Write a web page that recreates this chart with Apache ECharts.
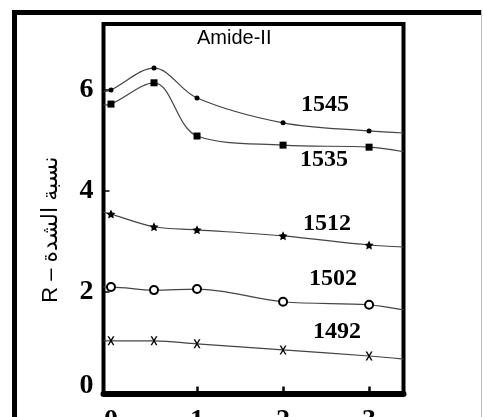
<!DOCTYPE html>
<html>
<head>
<meta charset="utf-8">
<script src="https://cdn.jsdelivr.net/npm/echarts@6/dist/echarts.min.js"></script>
<style>
html,body{margin:0;padding:0;background:#fff;}
#chart{width:483px;height:417px;}
</style>
</head>
<body>
<div id="chart"></div>
<script>
// ---- data ----
const xValues = [0, 0.5, 1, 2, 3];
const xEdges = [-0.087, 3.4];           // line continues to the frame edges
const xTickLabels = [0, 1, 2, 3];
const yTickLabels = [0, 2, 4, 6];
const seriesNames = ['1545', '1535', '1512', '1502', '1492'];
const r1545 = [5.99, 6.42, 5.83, 5.34, 5.18];
const r1535 = [5.71, 6.13, 5.08, 4.90, 4.86];
const r1512 = [3.54, 3.29, 3.23, 3.11, 2.93];
const r1502 = [2.10, 2.04, 2.06, 1.81, 1.75];
const r1492 = [1.04, 1.04, 0.98, 0.86, 0.74];
const edges1545 = [5.95, 5.14];
const edges1535 = [5.69, 4.77];
const edges1512 = [3.58, 2.89];
const edges1502 = [2.10, 1.65];
const edges1492 = [1.04, 0.68];
const titleText = 'Amide-II';
const yName = 'R – نسبة الشدة';

// ---- styling ----
const STAR = 'path://M0,-10 L2.9,-4 9.5,-3.1 4.7,1.5 5.9,8.1 0,5 -5.9,8.1 -4.7,1.5 -9.5,-3.1 -2.9,-4 Z';
const CROSS = 'path://M0,0 L2.2,0 5,4 7.8,0 10,0 6.1,5.5 10,11 7.8,11 5,7 2.2,11 0,11 3.9,5.5 Z';
const styles = [
  {symbol: 'circle', size: 5, offset: [42, -18]},
  {symbol: 'rect', size: 7, offset: [41, 15]},
  {symbol: STAR, size: 9, offset: [44, -12]},
  {symbol: 'emptyCircle', size: 8, offset: [50, -23]},
  {symbol: CROSS, size: [7, 9], offset: [54, -18]}
];
const values = [r1545, r1535, r1512, r1502, r1492];
const edges = [edges1545, edges1535, edges1512, edges1502, edges1492];
const labelIndex = 3; // label anchored at x = 2

const series = values.map((vals, si) => {
  const st = styles[si];
  const data = [];
  data.push({value: [xEdges[0], edges[si][0]], symbol: 'none'});
  vals.forEach((v, i) => {
    const item = {value: [xValues[i], v]};
    if (i === labelIndex) {
      item.label = {
        show: true, position: 'inside', offset: st.offset,
        formatter: seriesNames[si],
        fontFamily: 'Liberation Serif', fontSize: 24, fontWeight: 'bold', color: '#000'
      };
    }
    data.push(item);
  });
  data.push({value: [xEdges[1], edges[si][1]], symbol: 'none'});
  return {
    name: seriesNames[si],
    type: 'line',
    data: data,
    smooth: 0.35,
    symbol: st.symbol,
    symbolSize: st.size,
    showAllSymbol: true,
    itemStyle: {color: '#000', borderColor: '#000', borderWidth: st.symbol === 'emptyCircle' ? 1.3 : 0},
    lineStyle: {color: '#444', width: 1.2},
    emphasis: {disabled: true},
    z: 3
  };
});

const yLabelFont = {fontFamily: 'Liberation Serif', fontSize: 28, fontWeight: 'bold', color: '#000'};

const chart = echarts.init(document.getElementById('chart'), null, {renderer: 'canvas'});
chart.setOption({
  animation: false,
  backgroundColor: '#fff',
  title: {
    text: titleText, left: 197, top: 28, padding: 0,
    textStyle: {fontFamily: 'Liberation Sans', fontSize: 20, fontWeight: 'normal', color: '#000'}
  },
  grid: {
    left: 103.5, top: 24, width: 300, height: 369.5,
    outerBoundsMode: 'none', containLabel: false,
    show: true, borderColor: '#000', borderWidth: 4, backgroundColor: 'transparent'
  },
  xAxis: {
    type: 'value', min: xEdges[0], max: xEdges[1],
    axisLine: {show: true, onZero: false, lineStyle: {color: '#000', width: 6}},
    axisTick: {show: true, inside: true, length: 7, customValues: xTickLabels.slice(1), lineStyle: {color: '#000', width: 2.5}},
    axisLabel: {customValues: xTickLabels, margin: 13, fontFamily: 'Liberation Serif', fontSize: 28, fontWeight: 'bold', color: '#000'},
    splitLine: {show: false}
  },
  yAxis: {
    type: 'value', min: 0, max: 7.29,
    name: yName, nameLocation: 'middle', nameRotate: 90, nameGap: 42,
    nameTextStyle: {fontFamily: 'Liberation Sans, DejaVu Sans', fontSize: 22, color: '#000', padding: [0, 42, 0, 0]},
    axisLine: {show: true, onZero: false, lineStyle: {color: '#000', width: 3}},
    axisTick: {show: true, inside: true, length: 6, customValues: yTickLabels.slice(1), lineStyle: {color: '#000', width: 1.5}},
    axisLabel: Object.assign({
      customValues: yTickLabels, margin: 10,
      formatter: v => (v === 0 ? '{z|0}' : String(v)),
      rich: {z: Object.assign({padding: [0, 0, 16, 0]}, yLabelFont)}
    }, yLabelFont),
    splitLine: {show: false}
  },
  graphic: [
    {type: 'rect', shape: {x: 12, y: 10, width: 470, height: 5}, style: {fill: '#000'}, silent: true},
    {type: 'rect', shape: {x: 12, y: 10, width: 5, height: 420}, style: {fill: '#000'}, silent: true},
    {type: 'line', shape: {x1: 481.5, y1: 10, x2: 481.5, y2: 417}, style: {stroke: '#bbb', lineWidth: 1}, silent: true}
  ],
  series: series
});
</script>
</body>
</html>
